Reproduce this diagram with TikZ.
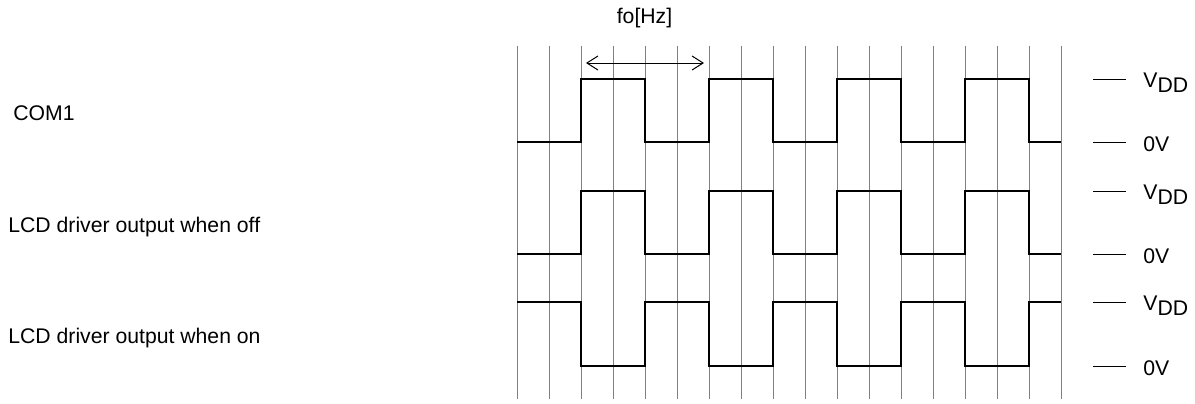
\documentclass[tikz,border=0pt]{standalone}
\usepackage{fontspec}
\setmainfont{Liberation Sans}
\usetikzlibrary{arrows.meta}
\begin{document}
\begin{tikzpicture}[x=0.5pt,y=-0.5pt,
  gridline/.style={draw=black!50,line width=0.5pt},
  wave/.style={draw=black,line width=1.1pt,line join=miter},
  tick/.style={draw=black,line width=0.5pt},
  lbl/.style={anchor=base west,inner sep=0pt,font=\fontsize{10.6}{12.7}\selectfont},
  dim/.style={draw=black,line width=0.5pt,{Straight Barb[length=5.5pt,width=7pt]}-{Straight Barb[length=5.5pt,width=7pt]}}]
\useasboundingbox (0,0) rectangle (1195,403);
% grid
\foreach \i in {0,...,17}{
  \draw[gridline] ({517+32*\i},46) -- ({517+32*\i},399);
}
% waveforms
\draw[wave] (517,142) -| (581,79) -| (645,142) -| (709,79) -| (773,142) -| (837,79) -| (901,142) -| (965,79) -| (1029,142) -- (1061,142);
\draw[wave] (517,254) -| (581,191) -| (645,254) -| (709,191) -| (773,254) -| (837,191) -| (901,254) -| (965,191) -| (1029,254) -- (1061,254);
\draw[wave] (517,302) -| (581,366) -| (645,302) -| (709,366) -| (773,302) -| (837,366) -| (901,302) -| (965,366) -| (1029,302) -- (1061,302);
% period arrow
\coordinate (a1) at (586,63);
\coordinate (a2) at (704,63);
\draw[dim] (a1) -- (a2);
\node[lbl,anchor=base] (fo) at (644.5,23.5) {fo[Hz]};
% row labels
\node[lbl] (com) at (13,120) {COM1};
\node[lbl] (off) at (8,232) {LCD driver output when off};
\node[lbl] (on) at (8,343) {LCD driver output when on};
% level labels
\foreach \n/\hi/\lo in {r1/79/142, r2/191/254, r3/302/366}{
  \coordinate (\n hA) at (1093,\hi);
  \coordinate (\n hB) at (1126,\hi);
  \coordinate (\n lA) at (1093,\lo);
  \coordinate (\n lB) at (1126,\lo);
  \draw[tick] (\n hA) -- (\n hB);
  \draw[tick] (\n lA) -- (\n lB);
  \node[lbl] (\n vdd) at (1143,{\hi+8.5}) {V\raisebox{-2.5pt}{DD}};
  \node[lbl] (\n zero) at (1143,{\lo+9.5}) {0V};
}
\end{tikzpicture}
\end{document}
